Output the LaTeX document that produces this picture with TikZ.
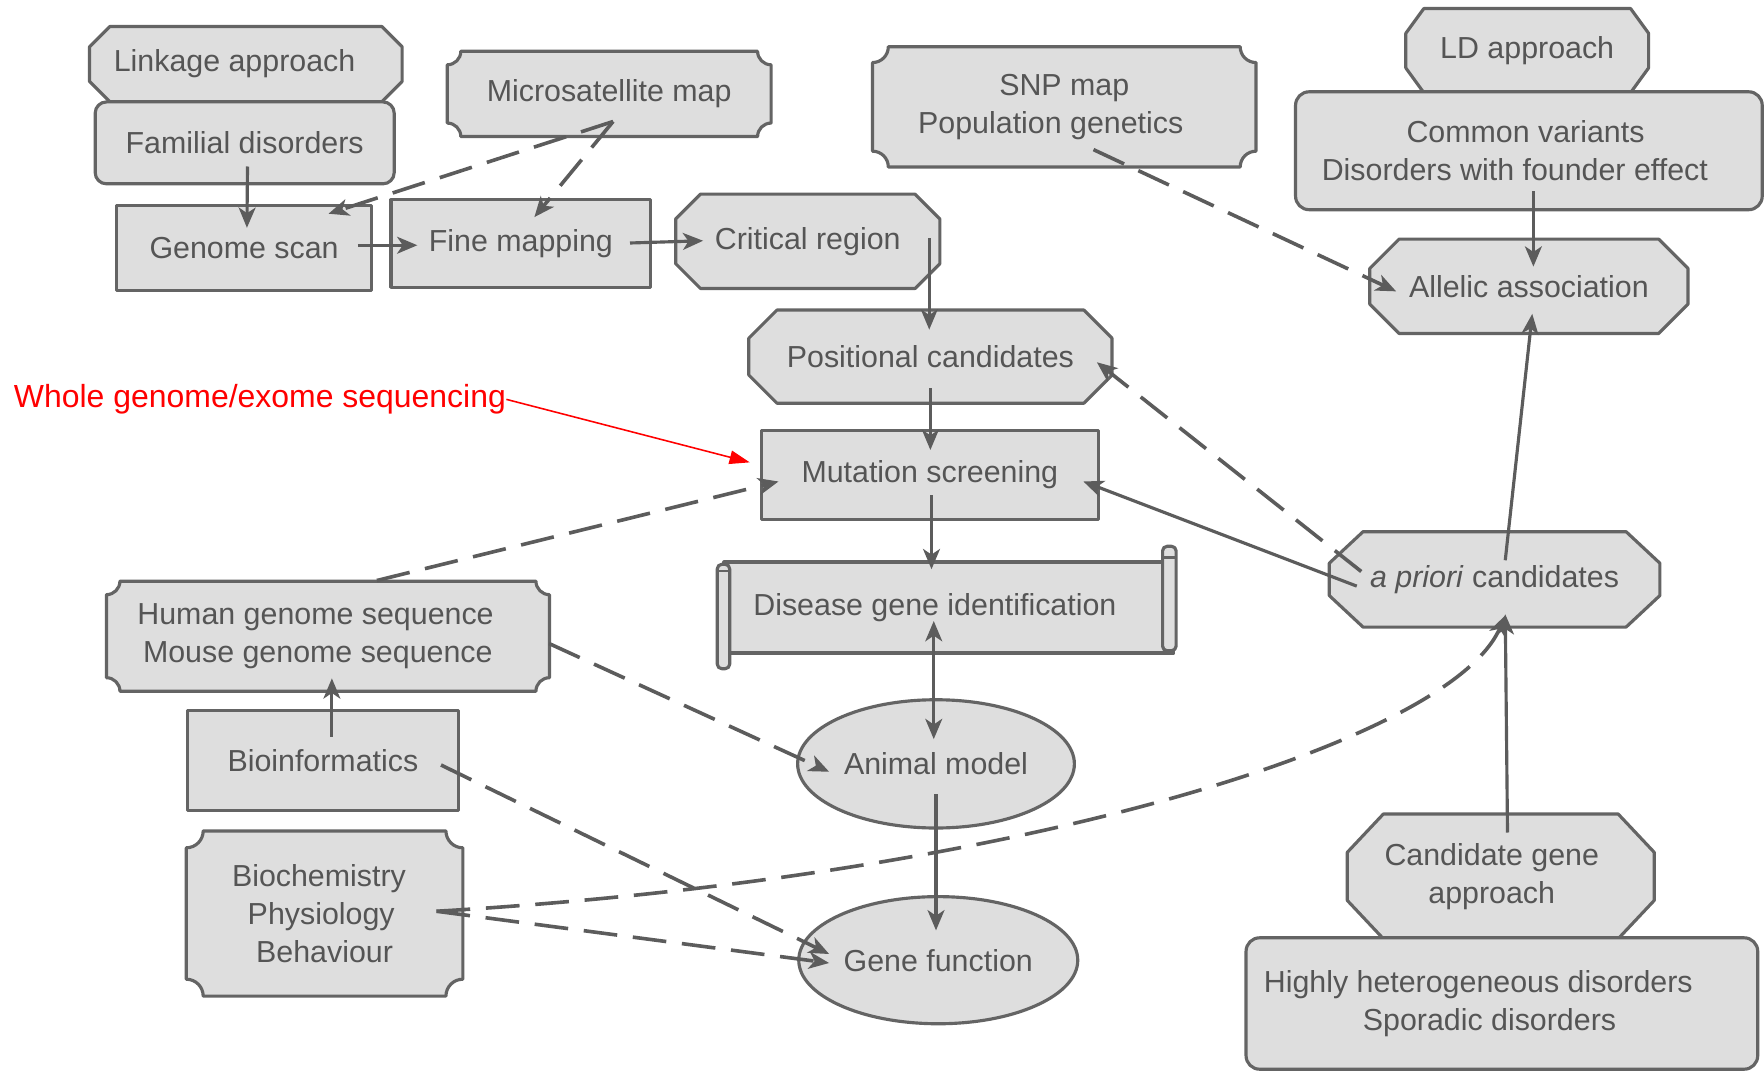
\documentclass[tikz,border=0pt]{standalone}
\usepackage{fontspec}
\setmainfont{Liberation Sans}
\usetikzlibrary{arrows.meta,backgrounds}

\definecolor{boxfill}{HTML}{DEDEDE}
\definecolor{boxline}{HTML}{646464}
\definecolor{ink}{HTML}{555555}
\definecolor{wire}{HTML}{5C5C5C}

\newdimen\pxunit \pxunit=0.5pt

% shift a line of centred text to the left by half of #1
\newcommand\txtleft[2]{\makebox[0pt]{#2\hspace*{#1\pxunit}}}

% box outlines drawn from the corners of a node
\newcommand\octshape[3]{% node, horizontal cut, vertical cut
  \path[shp] ([xshift=#2\pxunit]#1.north west) -- ([xshift=-#2\pxunit]#1.north east)
    -- ([yshift=-#3\pxunit]#1.north east) -- ([yshift=#3\pxunit]#1.south east)
    -- ([xshift=-#2\pxunit]#1.south east) -- ([xshift=#2\pxunit]#1.south west)
    -- ([yshift=#3\pxunit]#1.south west) -- ([yshift=-#3\pxunit]#1.north west) -- cycle;}
\newcommand\plaqshape[2]{% node, concave corner radius
  \path[shp] ([xshift=#2\pxunit]#1.north west) -- ([xshift=-#2\pxunit]#1.north east)
    arc[start angle=180,end angle=270,radius=#2\pxunit]
    -- ([yshift=#2\pxunit]#1.south east) arc[start angle=90,end angle=180,radius=#2\pxunit]
    -- ([xshift=#2\pxunit]#1.south west) arc[start angle=0,end angle=90,radius=#2\pxunit]
    -- ([yshift=-#2\pxunit]#1.north west) arc[start angle=270,end angle=360,radius=#2\pxunit]
    -- cycle;}
\newcommand\roundshape[2]{%
  \path[shp, rounded corners=#2\pxunit] (#1.north west) rectangle (#1.south east);}
\newcommand\rectshape[1]{%
  \path[shp] (#1.north west) rectangle (#1.south east);}
\newcommand\ellshape[3]{%
  \path[shp] (#1.center) ellipse [x radius=#2\pxunit, y radius=#3\pxunit];}

\tikzset{
  wd/.style={minimum width=#1\pxunit},
  ht/.style={minimum height=#1\pxunit},
  lbl/.style={inner sep=0pt, align=center, text=ink,
              font=\fontsize{13.5pt}{17pt}\selectfont},
  shp/.style={fill=boxfill, draw=boxline, line width=1.4pt, line join=round},
  con/.style={draw=wire, line width=1.4pt, -{Stealth[length=9pt,width=7.5pt,inset=2.5pt]}},
  dcon/.style={con, line width=1.6pt, dash pattern=on 15pt off 7pt},
  twoway/.style={{Stealth[length=9pt,width=7.5pt,inset=2.5pt]}-{Stealth[length=9pt,width=7.5pt,inset=2.5pt]}},
}

\begin{document}
\begin{tikzpicture}[x=0.5pt, y=-0.5pt]
\useasboundingbox (0,0) rectangle (1568,952);

% ---- text nodes, sized to their boxes
\node[lbl, wd=277, ht=66]  (link)  at (218.5,57)   {\txtleft{20}{Linkage approach}};
\node[lbl, wd=265, ht=72]  (fam)   at (217.5,127)  {Familial disorders};
\node[lbl, wd=287, ht=75]  (micro) at (541.5,83.5) {Microsatellite map};
\node[lbl, wd=226, ht=75]  (gs)    at (217,220.5)  {Genome scan};
\node[lbl, wd=230, ht=77]  (fm)    at (463,216.5)  {Fine mapping};
\node[lbl, wd=234, ht=83]  (crit)  at (718,214.5)  {Critical region};
\node[lbl, wd=322, ht=82]  (pos)   at (827,317)    {Positional candidates};
\node[lbl, wd=299, ht=78]  (mut)   at (826.5,422)  {Mutation screening};
\node[lbl, wd=399, ht=80]  (dis)   at (843.5,540)  {\txtleft{25}{Disease gene identification}};
\node[lbl, wd=246, ht=114] (am)    at (832,679)    {Animal model};
\node[lbl, wd=248, ht=113] (gf)    at (834,853.5)  {Gene function};
\node[lbl, wd=340, ht=106] (snp)   at (946,95)     {SNP map\\\txtleft{24}{Population genetics}};
\node[lbl, wd=215, ht=74]  (ld)    at (1357.5,45)  {LD approach};
\node[lbl, wd=414, ht=104] (cv)    at (1359,134)   {\txtleft{6}{Common variants}\\\txtleft{25}{Disorders with founder effect}};
\node[lbl, wd=282, ht=83]  (aa)    at (1359,254.5) {Allelic association};
\node[lbl, wd=293, ht=84]  (apr)   at (1328.5,515) {\textit{a priori} candidates};
\node[lbl, wd=272, ht=110] (cga)   at (1334,779)   {\txtleft{16}{Candidate gene}\\\txtleft{16}{approach}};
\node[lbl, wd=454, ht=116] (hhd)   at (1335,892)   {\txtleft{42}{Highly heterogeneous disorders}\\\txtleft{22}{Sporadic disorders}};
\node[lbl, wd=393, ht=97]  (hgs)   at (291.5,565.5){\txtleft{22}{Human genome sequence}\\\txtleft{18}{Mouse genome sequence}};
\node[lbl, wd=240, ht=88]  (bio)   at (287,676)    {Bioinformatics};
\node[lbl, wd=245, ht=146] (bpb)   at (288.5,812)  {\txtleft{10}{Biochemistry}\\\txtleft{6}{Physiology}\\Behaviour};

\node[anchor=west, inner sep=0pt, text=red, font=\fontsize{14.2pt}{17pt}\selectfont]
  (wgs) at (12,355) {Whole genome/exome sequencing};

% ---- box outlines
\begin{pgfonlayer}{background}
  \fill[white] (0,0) rectangle (1568,952);
  \octshape{link}{18}{18}
  \roundshape{fam}{10}
  \plaqshape{micro}{12}
  \rectshape{gs}
  \rectshape{fm}
  \octshape{crit}{22}{22}
  \octshape{pos}{25}{25}
  \rectshape{mut}
  % scroll
  \rectshape{dis}
  \path[shp, rounded corners=4\pxunit] ([xshift=-6\pxunit,yshift=-2\pxunit]dis.north west)
     rectangle ([xshift=5\pxunit,yshift=-14\pxunit]dis.south west);
  \path[shp, rounded corners=4\pxunit] ([xshift=-10\pxunit,yshift=14\pxunit]dis.north east)
     rectangle ([xshift=2\pxunit,yshift=2\pxunit]dis.south east);
  \draw[boxline, line width=1pt] ([xshift=-10\pxunit,yshift=4\pxunit]dis.north east)
     -- ([xshift=2\pxunit,yshift=4\pxunit]dis.north east);
  \draw[boxline, line width=1pt] ([xshift=-6\pxunit,yshift=-8\pxunit]dis.north west)
     -- ([xshift=5\pxunit,yshift=-8\pxunit]dis.north west);
  \ellshape{am}{123}{57}
  \ellshape{gf}{124}{56.5}
  \plaqshape{snp}{14}
  \octshape{ld}{16}{22}
  \roundshape{cv}{12}
  \octshape{aa}{26}{26}
  \octshape{apr}{30}{28}
  \octshape{cga}{32}{34}
  \roundshape{hhd}{12}
  \plaqshape{hgs}{12}
  \rectshape{bio}
  \plaqshape{bpb}{15}
\end{pgfonlayer}

% ---- connectors
\draw[con]  ([shift={(2.5,21)}]fam.center)     -- ([shift={(2.5,-18)}]gs.center);
\draw[con]  ([shift={(101,-2.5)}]gs.center)    -- ([shift={(-92,1.5)}]fm.center);
\draw[con]  ([shift={(97,-0.5)}]fm.center)     -- ([shift={(-93,-0.5)}]crit.center);
\draw[dcon] ([shift={(3.5,24.5)}]micro.center) -- ([shift={(75,-30.5)}]gs.center);
\draw[dcon] ([shift={(3.5,24.5)}]micro.center) -- ([shift={(12,-23.5)}]fm.center);
\draw[con]  ([shift={(108,-2.5)}]crit.center)  -- ([shift={(-1,-24)}]pos.center);
\draw[con]  ([shift={(0,28)}]pos.center)       -- ([shift={(0.5,-22)}]mut.center);
\draw[con]  ([shift={(1.5,18)}]mut.center)     -- ([shift={(-15.5,-34)}]dis.center);
\draw[con, twoway] ([shift={(-13.5,12)}]dis.center) -- ([shift={(-2,-22)}]am.center);
\draw[con]  ([shift={(0,27)}]am.center)        -- ([shift={(-2,-26.5)}]gf.center);
\draw[dcon] ([shift={(26,38)}]snp.center)      -- ([shift={(-118,4.5)}]aa.center);
\draw[con]  ([shift={(4,36)}]cv.center)        -- ([shift={(4,-17.5)}]aa.center);
\draw[con]  ([shift={(9.5,-17)}]apr.center)    -- ([shift={(3,24.5)}]aa.center);
\draw[con]  ([shift={(-122.5,6)}]apr.center)   -- ([shift={(136.5,6)}]mut.center);
\draw[dcon] ([shift={(-118.5,-7)}]apr.center)  -- ([shift={(148,5)}]pos.center);
\draw[con]  ([shift={(6,-39)}]cga.center)      -- ([shift={(9.5,31)}]apr.center);
\draw[dcon] ([shift={(99.5,-2)}]bpb.center) .. controls +(512,-30) and +(-48,113)
            .. ([shift={(9.5,32)}]apr.center);
\draw[dcon] ([shift={(99.5,-2)}]bpb.center)    -- ([shift={(-97,2.5)}]gf.center);
\draw[dcon] ([shift={(105,4)}]bio.center)      -- ([shift={(-97,-5.5)}]gf.center);
\draw[dcon] ([shift={(196.5,6.5)}]hgs.center)  -- ([shift={(-95,7)}]am.center);
\draw[dcon] ([shift={(43.5,-49.5)}]hgs.center) -- ([shift={(-134.5,6)}]mut.center);
\draw[con]  ([shift={(8,-21)}]bio.center)      -- ([shift={(3.5,37.5)}]hgs.center);

\draw[red, line width=0.7pt, -{Triangle[length=9pt,width=6pt]}]
  (wgs.east) -- ([shift={(-160,-11)}]mut.center);
\end{tikzpicture}
\end{document}
